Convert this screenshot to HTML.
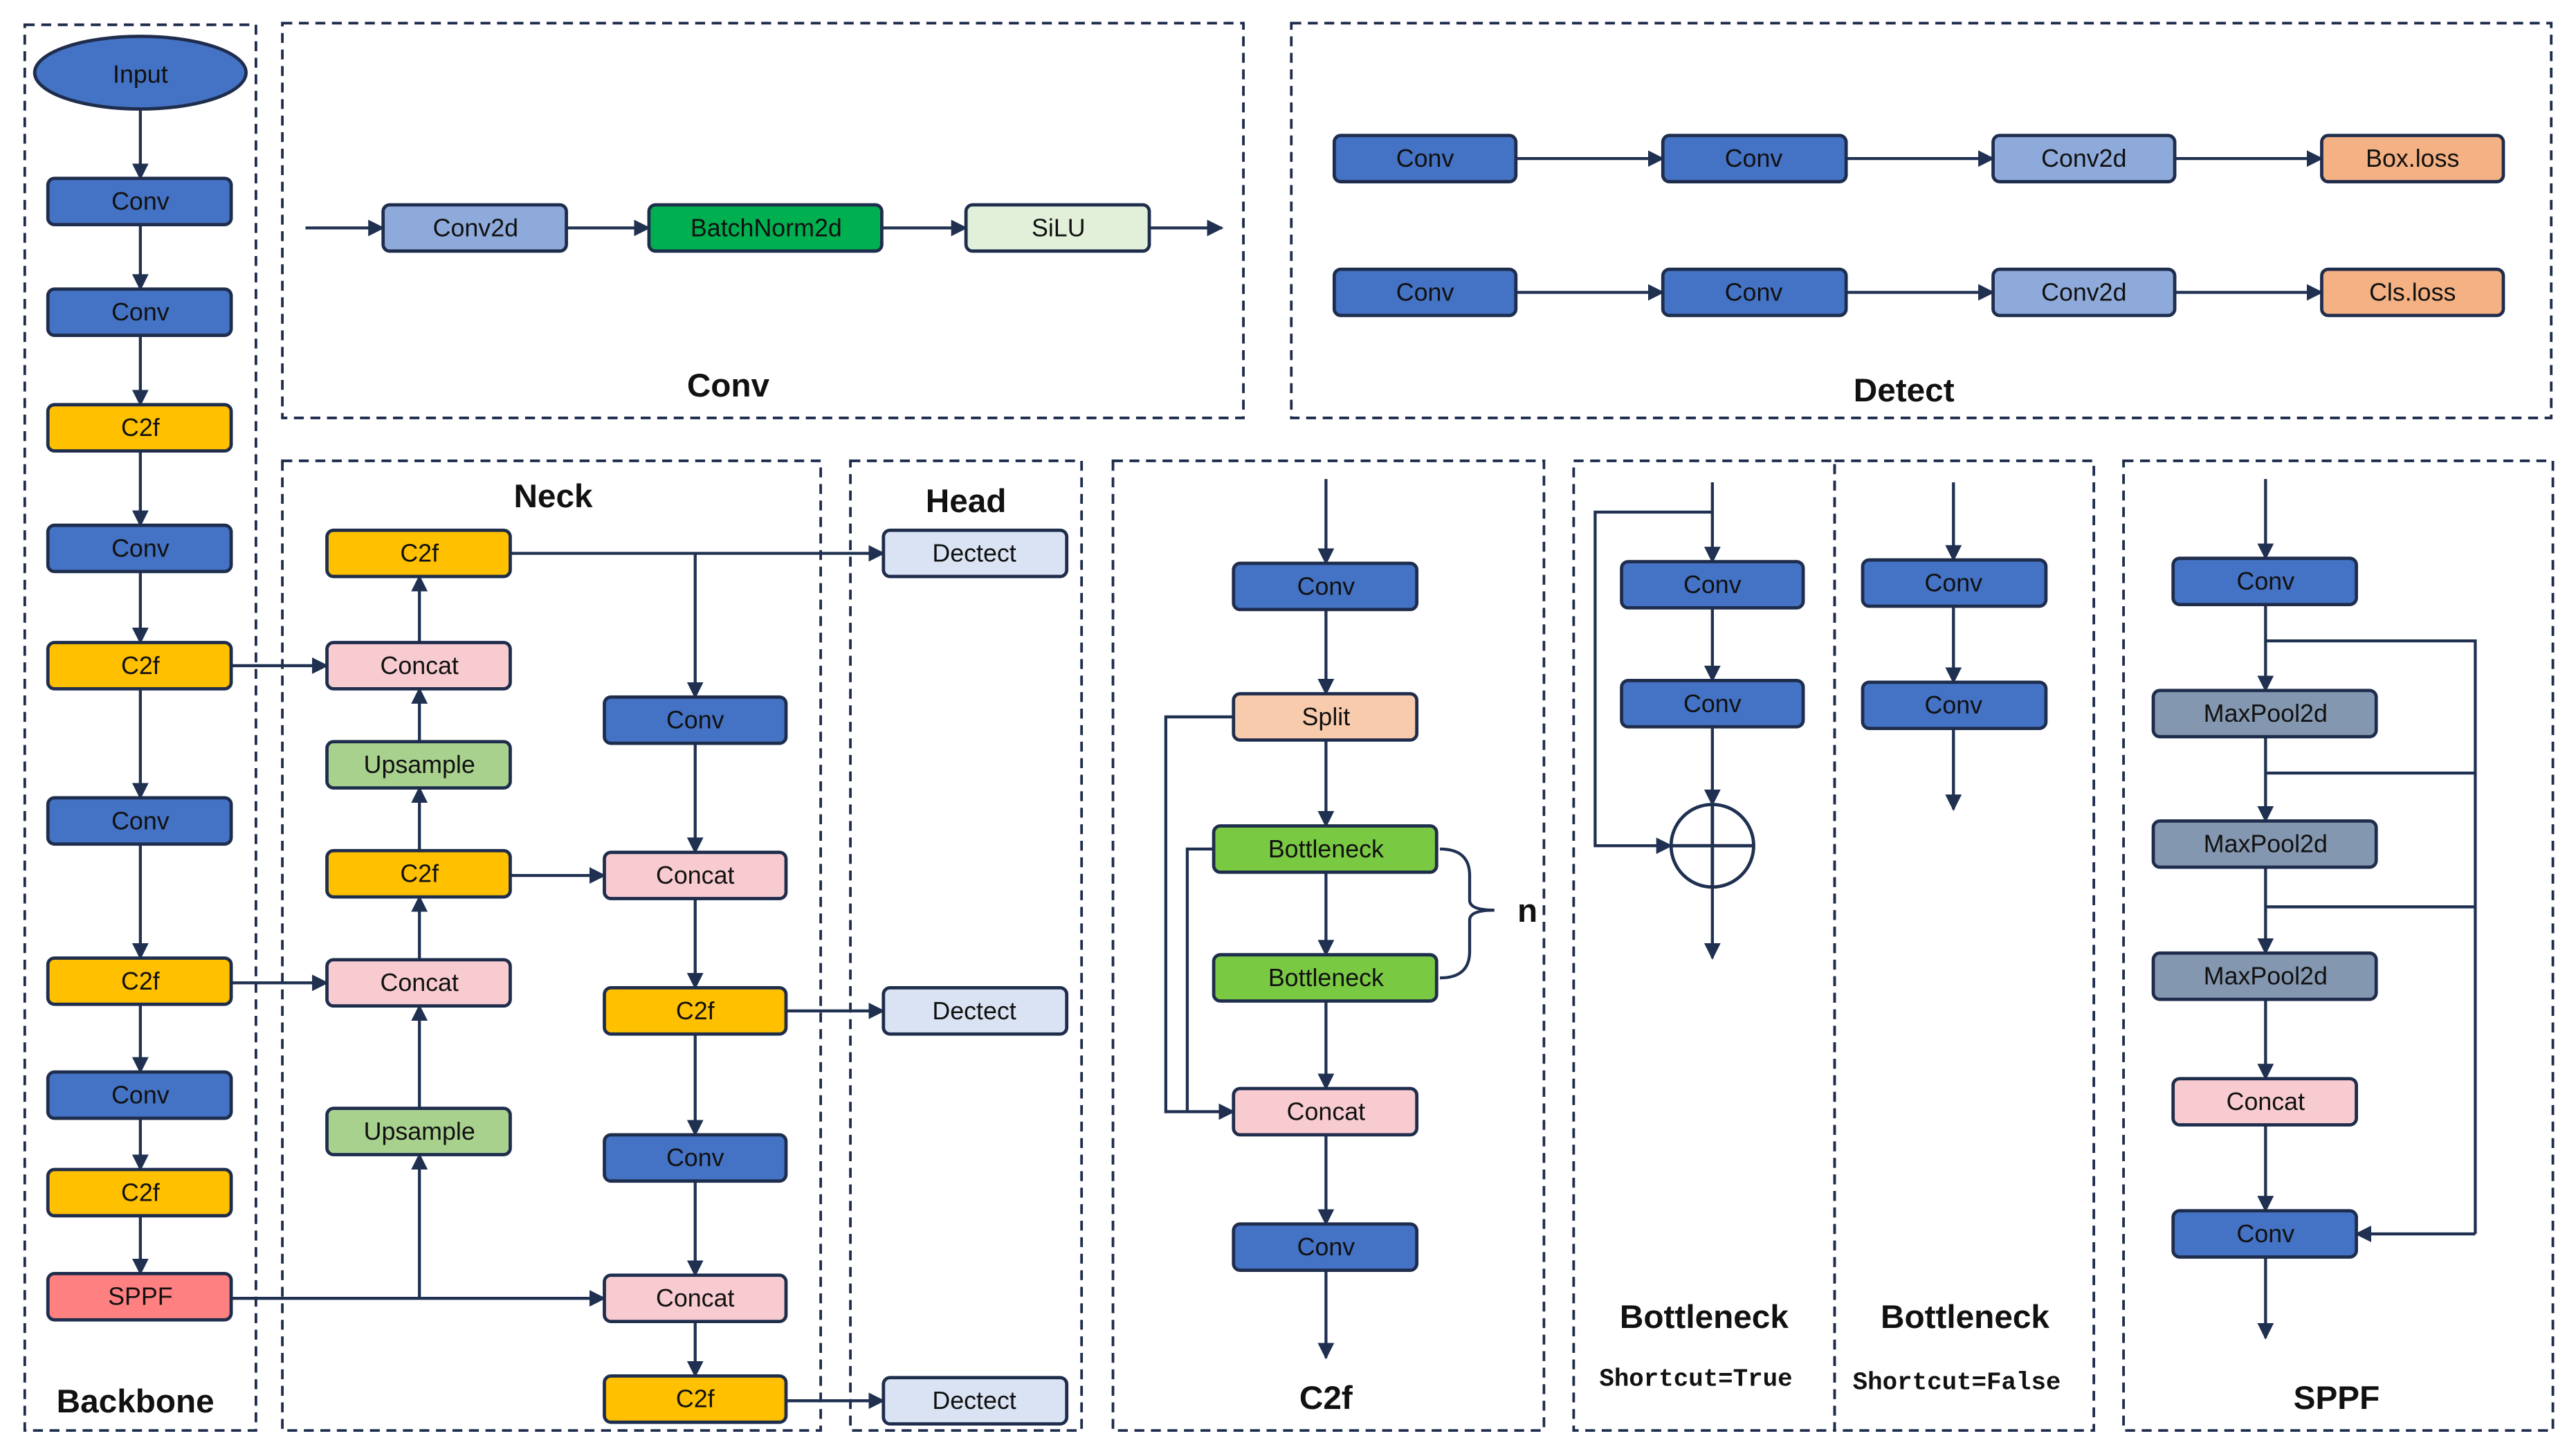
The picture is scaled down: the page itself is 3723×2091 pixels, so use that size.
<!DOCTYPE html>
<html><head><meta charset="utf-8"><style>
html,body{margin:0;padding:0;background:#fff;}
svg{display:block;}
text{font-family:"Liberation Sans",sans-serif;}
</style></head><body>
<svg width="3723" height="2091" viewBox="0 0 1560 876" preserveAspectRatio="none" xmlns="http://www.w3.org/2000/svg">
<defs>
<marker id="a" markerWidth="10" markerHeight="10" refX="9" refY="5" orient="auto" markerUnits="userSpaceOnUse"><path d="M0,0 L10,5 L0,10 z" fill="#1f3050"/></marker>
</defs>
<rect width="1560" height="876" fill="#fff"/>
<g fill="none" stroke="#1f2d4d" stroke-width="1.6" stroke-dasharray="6,4">
<rect x="15" y="15" width="140" height="851"/>
<rect x="171" y="14" width="582" height="239"/>
<rect x="782" y="14" width="763" height="239"/>
<rect x="171" y="279" width="326" height="587"/>
<rect x="515" y="279" width="140" height="587"/>
<rect x="674" y="279" width="261" height="587"/>
<rect x="953" y="279" width="158" height="587"/>
<rect x="1111" y="279" width="157" height="587"/>
<rect x="1286" y="279" width="260" height="587"/>
</g>
<g stroke="#1f3050" stroke-width="1.8" fill="none" marker-end="url(#a)">
<!-- backbone -->
<line x1="85" y1="66" x2="85" y2="108"/><line x1="85" y1="136" x2="85" y2="175"/><line x1="85" y1="203" x2="85" y2="245"/>
<line x1="85" y1="273" x2="85" y2="318"/><line x1="85" y1="346" x2="85" y2="389"/><line x1="85" y1="417" x2="85" y2="483"/>
<line x1="85" y1="511" x2="85" y2="580"/><line x1="85" y1="608" x2="85" y2="649"/><line x1="85" y1="677" x2="85" y2="708"/>
<line x1="85" y1="736" x2="85" y2="771"/>
<!-- conv -->
<line x1="185" y1="138" x2="232" y2="138"/><line x1="343" y1="138" x2="393" y2="138"/><line x1="534" y1="138" x2="585" y2="138"/><line x1="696" y1="138" x2="740" y2="138"/>
<!-- detect -->
<line x1="918" y1="96" x2="1007" y2="96"/><line x1="1118" y1="96" x2="1207" y2="96"/><line x1="1317" y1="96" x2="1406" y2="96"/>
<line x1="918" y1="177" x2="1007" y2="177"/><line x1="1118" y1="177" x2="1207" y2="177"/><line x1="1317" y1="177" x2="1406" y2="177"/>
<!-- neck -->
<line x1="140" y1="786" x2="366" y2="786"/>
<line x1="254" y1="786" x2="254" y2="699"/>
<line x1="254" y1="671" x2="254" y2="609"/>
<line x1="140" y1="595" x2="198" y2="595"/>
<line x1="254" y1="581" x2="254" y2="543"/>
<line x1="309" y1="530" x2="366" y2="530"/>
<line x1="254" y1="515" x2="254" y2="477"/>
<line x1="254" y1="449" x2="254" y2="417"/>
<line x1="140" y1="403" x2="198" y2="403"/>
<line x1="254" y1="389" x2="254" y2="349"/>
<line x1="309" y1="335" x2="535" y2="335"/>
<line x1="421" y1="335" x2="421" y2="422"/>
<line x1="421" y1="450" x2="421" y2="516"/>
<line x1="421" y1="544" x2="421" y2="598"/>
<line x1="476" y1="612" x2="535" y2="612"/>
<line x1="421" y1="626" x2="421" y2="687"/>
<line x1="421" y1="715" x2="421" y2="772"/>
<line x1="421" y1="800" x2="421" y2="833"/>
<line x1="476" y1="848" x2="535" y2="848"/>
<!-- c2f -->
<line x1="803" y1="290" x2="803" y2="341"/><line x1="803" y1="369" x2="803" y2="420"/><line x1="803" y1="448" x2="803" y2="500"/>
<line x1="803" y1="528" x2="803" y2="578"/><line x1="803" y1="606" x2="803" y2="659"/><line x1="803" y1="687" x2="803" y2="741"/><line x1="803" y1="769" x2="803" y2="822"/>
<polyline points="747,434 706,434 706,673 747,673"/>
<!-- bottleneck -->
<line x1="1037" y1="292" x2="1037" y2="340"/><line x1="1037" y1="368" x2="1037" y2="412"/><line x1="1037" y1="440" x2="1037" y2="487"/><line x1="1037" y1="537" x2="1037" y2="580"/>
<polyline points="1037,310 966,310 966,512 1012,512"/>
<line x1="1183" y1="292" x2="1183" y2="339"/><line x1="1183" y1="367" x2="1183" y2="413"/><line x1="1183" y1="441" x2="1183" y2="490"/>
<!-- sppf -->
<line x1="1372" y1="290" x2="1372" y2="338"/><line x1="1372" y1="366" x2="1372" y2="418"/><line x1="1372" y1="446" x2="1372" y2="497"/>
<line x1="1372" y1="525" x2="1372" y2="577"/><line x1="1372" y1="605" x2="1372" y2="653"/><line x1="1372" y1="681" x2="1372" y2="733"/><line x1="1372" y1="761" x2="1372" y2="810"/>
<polyline points="1499,747 1427,747"/>
</g>
<g stroke="#1f3050" stroke-width="1.8" fill="none">
<polyline points="735,514 719,514 719,673"/>
<polyline points="1372,388 1499,388 1499,747"/>
<line x1="1372" y1="468" x2="1499" y2="468"/><line x1="1372" y1="549" x2="1499" y2="549"/>
<path d="M872,514 Q890,514 890,530 L890,545 Q890,551 905,551 Q890,551 890,557 L890,576 Q890,592 872,592"/>
<circle cx="1037" cy="512" r="25" stroke-width="2"/>
<line x1="1012" y1="512" x2="1062" y2="512" stroke-width="2"/><line x1="1037" y1="487" x2="1037" y2="537" stroke-width="2"/>
</g>
<ellipse cx="85" cy="44" rx="64" ry="22" fill="#4472c4" stroke="#1f2d4d" stroke-width="2"/>
<text x="85" y="50" text-anchor="middle" font-size="15" fill="#111">Input</text>
<g stroke="#1f2d4d" stroke-width="2" font-size="15" text-anchor="middle">
<!-- helper nodes -->
<g>
<rect x="29" y="108" width="111" height="28" rx="4" fill="#4472c4"/>
<rect x="29" y="175" width="111" height="28" rx="4" fill="#4472c4"/>
<rect x="29" y="245" width="111" height="28" rx="4" fill="#ffc000"/>
<rect x="29" y="318" width="111" height="28" rx="4" fill="#4472c4"/>
<rect x="29" y="389" width="111" height="28" rx="4" fill="#ffc000"/>
<rect x="29" y="483" width="111" height="28" rx="4" fill="#4472c4"/>
<rect x="29" y="580" width="111" height="28" rx="4" fill="#ffc000"/>
<rect x="29" y="649" width="111" height="28" rx="4" fill="#4472c4"/>
<rect x="29" y="708" width="111" height="28" rx="4" fill="#ffc000"/>
<rect x="29" y="771" width="111" height="28" rx="4" fill="#ff8080"/>
<rect x="232" y="124" width="111" height="28" rx="4" fill="#8eaadb"/>
<rect x="393" y="124" width="141" height="28" rx="4" fill="#00b050"/>
<rect x="585" y="124" width="111" height="28" rx="4" fill="#e2f0d9"/>
<rect x="808" y="82" width="110" height="28" rx="4" fill="#4472c4"/>
<rect x="1007" y="82" width="111" height="28" rx="4" fill="#4472c4"/>
<rect x="1207" y="82" width="110" height="28" rx="4" fill="#8eaadb"/>
<rect x="1406" y="82" width="110" height="28" rx="4" fill="#f4b183"/>
<rect x="808" y="163" width="110" height="28" rx="4" fill="#4472c4"/>
<rect x="1007" y="163" width="111" height="28" rx="4" fill="#4472c4"/>
<rect x="1207" y="163" width="110" height="28" rx="4" fill="#8eaadb"/>
<rect x="1406" y="163" width="110" height="28" rx="4" fill="#f4b183"/>
<rect x="198" y="321" width="111" height="28" rx="4" fill="#ffc000"/>
<rect x="198" y="389" width="111" height="28" rx="4" fill="#f8cbd0"/>
<rect x="198" y="449" width="111" height="28" rx="4" fill="#a9d18e"/>
<rect x="198" y="515" width="111" height="28" rx="4" fill="#ffc000"/>
<rect x="198" y="581" width="111" height="28" rx="4" fill="#f8cbd0"/>
<rect x="198" y="671" width="111" height="28" rx="4" fill="#a9d18e"/>
<rect x="366" y="422" width="110" height="28" rx="4" fill="#4472c4"/>
<rect x="366" y="516" width="110" height="28" rx="4" fill="#f8cbd0"/>
<rect x="366" y="598" width="110" height="28" rx="4" fill="#ffc000"/>
<rect x="366" y="687" width="110" height="28" rx="4" fill="#4472c4"/>
<rect x="366" y="772" width="110" height="28" rx="4" fill="#f8cbd0"/>
<rect x="366" y="833" width="110" height="28" rx="4" fill="#ffc000"/>
<rect x="535" y="321" width="111" height="28" rx="4" fill="#dae3f3"/>
<rect x="535" y="598" width="111" height="28" rx="4" fill="#dae3f3"/>
<rect x="535" y="834" width="111" height="28" rx="4" fill="#dae3f3"/>
<rect x="747" y="341" width="111" height="28" rx="4" fill="#4472c4"/>
<rect x="747" y="420" width="111" height="28" rx="4" fill="#f8cbad"/>
<rect x="735" y="500" width="135" height="28" rx="4" fill="#7ac943"/>
<rect x="735" y="578" width="135" height="28" rx="4" fill="#7ac943"/>
<rect x="747" y="659" width="111" height="28" rx="4" fill="#f8cbd0"/>
<rect x="747" y="741" width="111" height="28" rx="4" fill="#4472c4"/>
<rect x="982" y="340" width="110" height="28" rx="4" fill="#4472c4"/>
<rect x="982" y="412" width="110" height="28" rx="4" fill="#4472c4"/>
<rect x="1128" y="339" width="111" height="28" rx="4" fill="#4472c4"/>
<rect x="1128" y="413" width="111" height="28" rx="4" fill="#4472c4"/>
<rect x="1316" y="338" width="111" height="28" rx="4" fill="#4472c4"/>
<rect x="1304" y="418" width="135" height="28" rx="4" fill="#8497b0"/>
<rect x="1304" y="497" width="135" height="28" rx="4" fill="#8497b0"/>
<rect x="1304" y="577" width="135" height="28" rx="4" fill="#8497b0"/>
<rect x="1316" y="653" width="111" height="28" rx="4" fill="#f8cbd0"/>
<rect x="1316" y="733" width="111" height="28" rx="4" fill="#4472c4"/>
</g>
</g>
<g font-size="15" text-anchor="middle" fill="#111">
<text x="85" y="127">Conv</text><text x="85" y="194">Conv</text><text x="85" y="264">C2f</text><text x="85" y="337">Conv</text>
<text x="85" y="408">C2f</text><text x="85" y="502">Conv</text><text x="85" y="599">C2f</text><text x="85" y="668">Conv</text>
<text x="85" y="727">C2f</text><text x="85" y="790">SPPF</text>
<text x="288" y="143">Conv2d</text><text x="464" y="143">BatchNorm2d</text><text x="641" y="143">SiLU</text>
<text x="863" y="101">Conv</text><text x="1062" y="101">Conv</text><text x="1262" y="101">Conv2d</text><text x="1461" y="101">Box.loss</text>
<text x="863" y="182">Conv</text><text x="1062" y="182">Conv</text><text x="1262" y="182">Conv2d</text><text x="1461" y="182">Cls.loss</text>
<text x="254" y="340">C2f</text><text x="254" y="408">Concat</text><text x="254" y="468">Upsample</text><text x="254" y="534">C2f</text>
<text x="254" y="600">Concat</text><text x="254" y="690">Upsample</text>
<text x="421" y="441">Conv</text><text x="421" y="535">Concat</text><text x="421" y="617">C2f</text><text x="421" y="706">Conv</text>
<text x="421" y="791">Concat</text><text x="421" y="852">C2f</text>
<text x="590" y="340">Dectect</text><text x="590" y="617">Dectect</text><text x="590" y="853">Dectect</text>
<text x="803" y="360">Conv</text><text x="803" y="439">Split</text><text x="803" y="519">Bottleneck</text><text x="803" y="597">Bottleneck</text>
<text x="803" y="678">Concat</text><text x="803" y="760">Conv</text>
<text x="1037" y="359">Conv</text><text x="1037" y="431">Conv</text><text x="1183" y="358">Conv</text><text x="1183" y="432">Conv</text>
<text x="1372" y="357">Conv</text><text x="1372" y="437">MaxPool2d</text><text x="1372" y="516">MaxPool2d</text><text x="1372" y="596">MaxPool2d</text>
<text x="1372" y="672">Concat</text><text x="1372" y="752">Conv</text>
</g>
<g font-size="20" font-weight="bold" text-anchor="middle" fill="#111">
<text x="82" y="855">Backbone</text><text x="441" y="240">Conv</text><text x="1153" y="243">Detect</text>
<text x="335" y="307">Neck</text><text x="585" y="310">Head</text><text x="803" y="853">C2f</text>
<text x="1032" y="804">Bottleneck</text><text x="1190" y="804">Bottleneck</text><text x="1415" y="853">SPPF</text>
<text x="925" y="558" font-size="20">n</text>
</g>
<g font-size="15" font-weight="bold" text-anchor="middle" fill="#111" font-family="Liberation Mono, monospace">
<text x="1027" y="839" style="font-family:'Liberation Mono',monospace">Shortcut=True</text>
<text x="1185" y="841" style="font-family:'Liberation Mono',monospace">Shortcut=False</text>
</g>
</svg>
</body></html>
